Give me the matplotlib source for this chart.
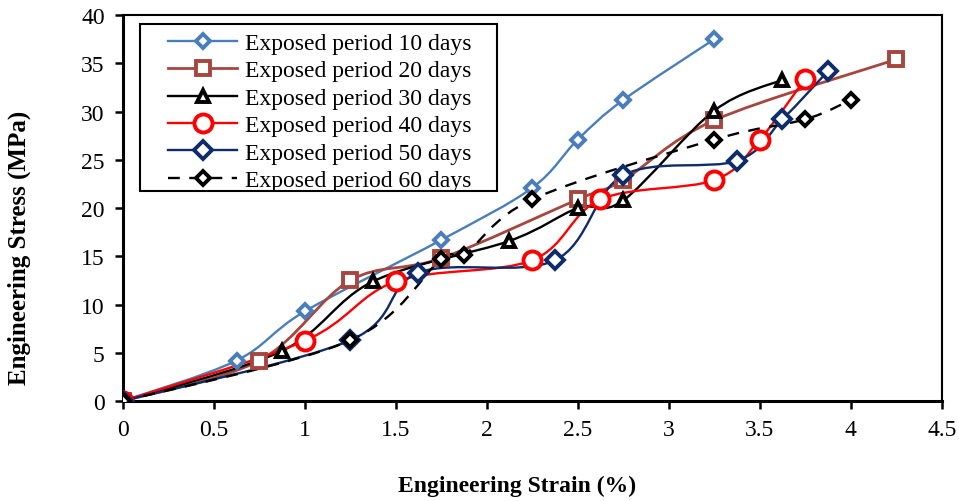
import matplotlib.pyplot as plt
from matplotlib.path import Path
from matplotlib.patches import PathPatch, Rectangle
from matplotlib.lines import Line2D

plt.rcParams['font.family'] = ['Liberation Serif', 'DejaVu Serif']

labels = ["Exposed period 10 days", "Exposed period 20 days", "Exposed period 30 days",
          "Exposed period 40 days", "Exposed period 50 days", "Exposed period 60 days"]

strain_10 = [0, 0.625, 1.0, 1.75, 2.25, 2.5, 2.75, 3.25]
stress_10 = [0, 4.2, 9.3, 16.7, 22.1, 27.1, 31.2, 37.5]

strain_20 = [0, 0.75, 1.25, 1.75, 2.5, 2.75, 3.25, 4.25]
stress_20 = [0, 4.2, 12.5, 14.8, 20.9, 22.9, 29.1, 35.4]

strain_30 = [0, 0.875, 1.375, 2.125, 2.5, 2.75, 3.25, 3.625]
stress_30 = [0, 5.2, 12.4, 16.6, 20.0, 20.8, 30.1, 33.3]

strain_40 = [0, 1.0, 1.5, 2.25, 2.625, 3.25, 3.5, 3.75]
stress_40 = [0, 6.25, 12.4, 14.6, 20.9, 22.9, 27.1, 33.4]

strain_50 = [0, 1.25, 1.625, 2.375, 2.75, 3.375, 3.625, 3.875]
stress_50 = [0, 6.3, 13.3, 14.6, 23.4, 24.9, 29.2, 34.2]

strain_60 = [0, 1.25, 1.75, 1.875, 2.25, 3.25, 3.75, 4.0]
stress_60 = [0, 6.3, 14.7, 15.1, 20.9, 27.1, 29.2, 31.2]

series = [
    (strain_10, stress_10, "#4A7EBB", "D", 7, "-", 1.7),
    (strain_20, stress_20, "#A5463F", "s", 10, "-", 2.0),
    (strain_30, stress_30, "black", "^", 9, "-", 1.7),
    (strain_40, stress_40, "#FF0000", "o", 13, "-", 1.7),
    (strain_50, stress_50, "#0E2B6B", "D", 9, "-", 1.7),
    (strain_60, stress_60, "black", "D", 7, (0, (5, 4)), 1.7),
]


def smooth_path(xs, ys):
    # excel-like smoothed line: cubic bezier with catmull-rom tangents
    pts = list(zip(xs, ys))
    n = len(pts)
    verts = [pts[0]]
    codes = [Path.MOVETO]
    for i in range(n - 1):
        p0 = pts[i - 1] if i > 0 else pts[i]
        p1 = pts[i]
        p2 = pts[i + 1]
        p3 = pts[i + 2] if i + 2 < n else pts[i + 1]
        c1 = (p1[0] + (p2[0] - p0[0]) / 6, p1[1] + (p2[1] - p0[1]) / 6)
        c2 = (p2[0] - (p3[0] - p1[0]) / 6, p2[1] - (p3[1] - p1[1]) / 6)
        verts += [c1, c2, p2]
        codes += [Path.CURVE4] * 3
    return Path(verts, codes)


fig = plt.figure(figsize=(9.59, 5.02), dpi=100)
ax = fig.add_axes([0.128, 0.199, 0.854, 0.769])

handles = []
for (xs, ys, color, marker, ms, ls, lw), label in zip(series, labels):
    patch = PathPatch(smooth_path(xs, ys), facecolor="none", edgecolor=color,
                      lw=lw, linestyle=ls, transform=ax.transData, zorder=2)
    ax.add_patch(patch)
    ax.plot(xs, ys, linestyle="none", marker=marker, markersize=ms,
            markerfacecolor="white", markeredgecolor=color, markeredgewidth=2.8, zorder=3)
    handles.append(Line2D([], [], color=color, lw=lw, linestyle=ls, marker=marker,
                          markersize=ms, markerfacecolor="white",
                          markeredgecolor=color, markeredgewidth=2.8))

ax.set_xlim(0, 4.5)
ax.set_ylim(0, 40)
ax.set_xticks([0, 0.5, 1, 1.5, 2, 2.5, 3, 3.5, 4, 4.5])
ax.set_xticklabels(["0", "0.5", "1", "1.5", "2", "2.5", "3", "3.5", "4", "4.5"])
ax.set_yticks(range(0, 41, 5))
ax.tick_params(direction="out", length=6, width=1.8, labelsize=17, pad=7)

for side in ["left", "bottom"]:
    ax.spines[side].set_linewidth(2.2)
for side in ["top", "right"]:
    ax.spines[side].set_linewidth(1.5)

ax.set_xlabel("Engineering Strain (%)", fontsize=17, fontweight="bold")
ax.set_ylabel("Engineering Stress (MPa)", fontsize=18, fontweight="bold")
ax.xaxis.set_label_coords(0.481, -0.19)
ax.yaxis.set_label_coords(-0.112, 0.40)

# legend box drawn by hand so the padding matches
ax.add_patch(Rectangle((0.0208, 0.544), 0.436, 0.433, transform=ax.transAxes,
                       facecolor="white", edgecolor="black", lw=1.5, zorder=4))
leg = ax.legend(handles, labels, loc="upper left", bbox_to_anchor=(0.055, 0.955),
                borderaxespad=0, fontsize=17, handlelength=2.95, labelspacing=0.25,
                borderpad=0, frameon=False, handletextpad=0.3)
leg.set_zorder(5)

fig.savefig("out.png", dpi=100)
